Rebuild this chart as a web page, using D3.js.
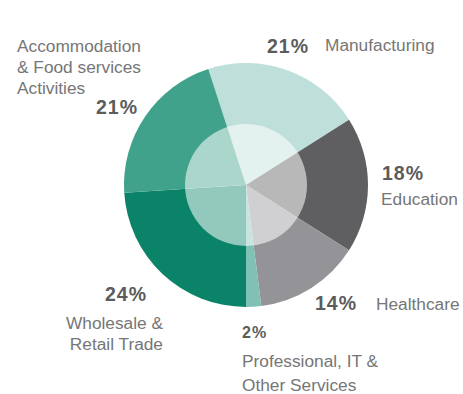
<!DOCTYPE html>
<html>
<head>
<meta charset="utf-8">
<script src="https://cdn.jsdelivr.net/npm/d3@7"></script>
<style>
  html, body { margin: 0; padding: 0; background: #fff; }
  svg { display: block; }
</style>
</head>
<body>
<svg id="chart" width="463" height="394"></svg>
<script>
// Employment share by sector, clockwise from Manufacturing
const categories = [
  "Manufacturing",
  "Education",
  "Healthcare",
  "Professional, IT & Other Services",
  "Wholesale & Retail Trade",
  "Accommodation & Food services Activities"
];
const values = [21, 18, 14, 2, 24, 21];
const labelLines = [
  ["Manufacturing"],
  ["Education"],
  ["Healthcare"],
  ["Professional, IT &", "Other Services"],
  ["Wholesale &", "Retail Trade"],
  ["Accommodation", "& Food services", "Activities"]
];

const palette = ["#bfe0da", "#5f5f61", "#949397", "#7fc2b5", "#0b8369", "#40a28b"];

const svg = d3.select("#chart");
const cx = 246, cy = 185, outerR = 122, innerR = 61;

const color = d3.scaleOrdinal().domain(categories).range(palette);

const pie = d3.pie()
  .sort(null)
  .value(d => d.value)
  .startAngle(-Math.PI * 0.1)
  .endAngle(Math.PI * 1.9);

const data = categories.map((c, i) => ({ name: c, value: values[i], lines: labelLines[i] }));
const arcs = pie(data);

const arc = d3.arc().innerRadius(0).outerRadius(outerR);

const g = svg.append("g").attr("transform", `translate(${cx},${cy})`);

g.selectAll("path.slice")
  .data(arcs)
  .join("path")
  .attr("class", "slice")
  .attr("d", arc)
  .attr("fill", d => color(d.data.name));

// translucent white disc in the middle
g.append("circle")
  .attr("r", innerR)
  .attr("fill", "#ffffff")
  .attr("fill-opacity", 0.56);

// label placement per slice: percentage + name lines
const layout = [
  { pct: [267, 53, "start"], name: [325, 51, "start"], lh: 21, pctSize: 19.5 },
  { pct: [382, 180, "start"], name: [381, 205, "start"], lh: 21, pctSize: 19.5 },
  { pct: [315, 310, "start"], name: [376, 310, "start"], lh: 21, pctSize: 19.5 },
  { pct: [242, 338, "start"], name: [242, 367, "start"], lh: 24, pctSize: 16 },
  { pct: [147, 301, "end"], name: [163, 329, "end"], lh: 21, pctSize: 19.5 },
  { pct: [138, 114, "end"], name: [17, 52, "start"], lh: 21, pctSize: 19.5 }
];

const labels = svg.append("g")
  .attr("font-family", "Liberation Sans, Arial, Helvetica, sans-serif");

arcs.forEach((d, i) => {
  const L = layout[i];
  labels.append("text")
    .attr("x", L.pct[0])
    .attr("y", L.pct[1])
    .attr("text-anchor", L.pct[2])
    .attr("font-size", L.pctSize)
    .attr("font-weight", "bold")
    .attr("letter-spacing", 1)
    .attr("fill", "#5c5c5c")
    .text(d3.format(".0f")(d.data.value) + "%");

  d.data.lines.forEach((line, j) => {
    labels.append("text")
      .attr("x", L.name[0])
      .attr("y", L.name[1] + j * L.lh)
      .attr("text-anchor", L.name[2])
      .attr("font-size", 17.3)
      .attr("fill", "#767676")
      .text(line);
  });
});
</script>
</body>
</html>
